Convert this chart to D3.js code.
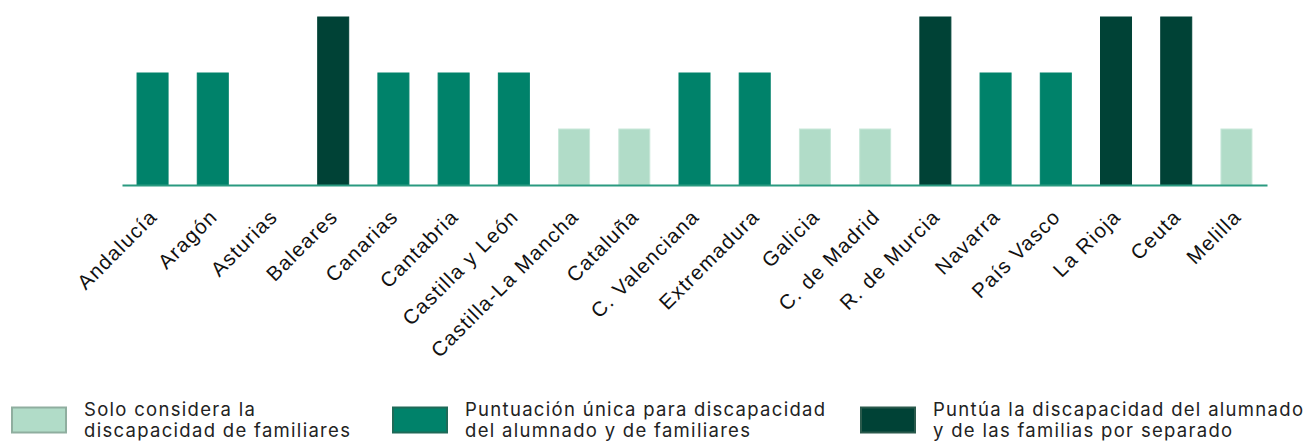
<!DOCTYPE html>
<html>
<head>
<meta charset="utf-8">
<script src="https://cdn.jsdelivr.net/npm/d3@7"></script>
<style>
  html, body { margin: 0; padding: 0; background: #fff; }
  svg { display: block; font-family: Inter, "Open Sans", sans-serif; }
</style>
</head>
<body>
<svg id="chart" width="1308" height="441"></svg>
<script>
// Comunidades autónomas y nivel de puntuación de la discapacidad
const categories = ["Andalucía", "Aragón", "Asturias", "Baleares", "Canarias", "Cantabria",
  "Castilla y León", "Castilla-La Mancha", "Cataluña", "C. Valenciana", "Extremadura",
  "Galicia", "C. de Madrid", "R. de Murcia", "Navarra", "País Vasco", "La Rioja", "Ceuta", "Melilla"];
// 1 = solo familiares, 2 = puntuación única, 3 = por separado
const values = [2, 2, 0, 3, 2, 2, 2, 1, 1, 2, 2, 1, 1, 3, 2, 2, 3, 3, 1];

const legendLabels = [
  ["Solo considera la", "discapacidad de familiares"],
  ["Puntuación única para discapacidad", "del alumnado y de familiares"],
  ["Puntúa la discapacidad del alumnado", "y de las familias por separado"]
];
const fills = ["#b1dcc8", "#00826a", "#004236"];
const strokes = ["#c9e8da", "#00826a", "#004236"];
const legendStrokes = ["#8fae9f", "#1f6a58", "#2a5a4c"];

const svg = d3.select("#chart");

const x = d3.scaleBand()
  .domain(categories)
  .range([122, 1267])
  .paddingInner(0.485)
  .paddingOuter(0.25);

const y = d3.scaleLinear().domain([0, 3]).range([185, 17]);

// barras
svg.append("g")
  .selectAll("rect")
  .data(categories.map((c, i) => ({ c, v: values[i] })).filter(d => d.v > 0))
  .join("rect")
  .attr("x", d => x(d.c))
  .attr("y", d => y(d.v))
  .attr("width", x.bandwidth())
  .attr("height", d => y(0) - y(d.v))
  .attr("fill", d => fills[d.v - 1])
  .attr("stroke", d => strokes[d.v - 1])
  .attr("stroke-width", 1);

// eje horizontal
const axis = svg.append("g")
  .attr("transform", `translate(0,${y(0)})`)
  .call(d3.axisBottom(x).tickSize(0).tickPadding(0));
axis.select(".domain")
  .attr("stroke", "#2a9a80")
  .attr("stroke-width", 2);
axis.selectAll(".tick text")
  .attr("font-size", 20.5)
  .attr("letter-spacing", 1.3)
  .attr("fill", "#111")
  .attr("text-anchor", "end")
  .attr("dy", "0")
  .attr("transform", "translate(6,33) rotate(-45)");

// leyenda
const legendX = [12, 393, 861];
const lg = svg.append("g");
legendLabels.forEach((lines, i) => {
  lg.append("rect")
    .attr("x", legendX[i])
    .attr("y", 407.5)
    .attr("width", 54)
    .attr("height", 25)
    .attr("fill", fills[i])
    .attr("stroke", legendStrokes[i])
    .attr("stroke-width", 2);
  const t = lg.append("text")
    .attr("x", legendX[i] + 72)
    .attr("y", 416)
    .attr("font-size", 18.5)
    .attr("letter-spacing", 1.3)
    .attr("fill", "#222");
  lines.forEach((l, k) => {
    t.append("tspan").attr("x", legendX[i] + 72).attr("dy", k === 0 ? 0 : 21).text(l);
  });
});
</script>
</body>
</html>
